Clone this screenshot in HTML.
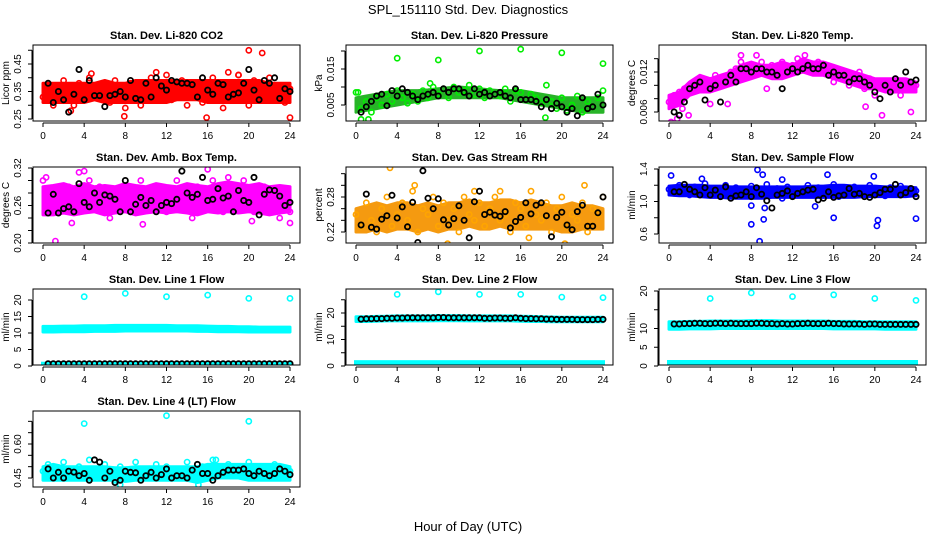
<!DOCTYPE html>
<html><head><meta charset="utf-8"><style>
html,body{margin:0;padding:0;background:#fff;}
svg{display:block;font-family:"Liberation Sans",Arial,sans-serif;}
</style></head><body>
<svg id="chart" width="936" height="540" viewBox="0 0 936 540">
<text x="468" y="14" text-anchor="middle" font-size="13">SPL_151110  Std. Dev. Diagnostics</text>
<text x="468" y="531" text-anchor="middle" font-size="13">Hour of Day (UTC)</text>
</svg>
<script>
const xTickLabels = ["0","4","8","12","16","20","24"];
const xTickValues = [0,4,8,12,16,20,24];

const p1Lo=[0.31,0.31,0.31,0.31,0.31,0.32,0.31,0.31,0.31,0.31,0.31,0.31,0.31,0.32,0.32,0.32,0.31,0.31,0.31,0.31,0.31,0.31,0.31,0.31,0.31];
const p1Hi=[0.38,0.38,0.38,0.38,0.38,0.38,0.39,0.38,0.38,0.39,0.39,0.39,0.39,0.39,0.39,0.39,0.39,0.39,0.39,0.39,0.39,0.39,0.38,0.38,0.38];
const p1Pts=[0.33,0.37,0.30,0.36,0.39,0.34,0.30,0.38,0.35,0.40,0.33,0.37,0.36,0.31,0.39,0.35,0.29,0.38,0.34,0.30,0.36,0.40,0.33,0.37,0.41,0.32,0.36,0.39,0.30,0.35,0.38,0.31,0.37,0.40,0.34,0.29,0.38,0.33,0.41,0.36,0.30,0.39,0.35,0.32,0.40,0.34,0.37,0.31,0.36];
const p1OutH=[2.7,7.9,15.9,20,21.3,18,24,19,11,4.7];
const p1OutV=[0.28,0.26,0.255,0.50,0.49,0.42,0.255,0.41,0.42,0.415];
const p1Blk=[0.38,0.31,0.35,0.32,0.275,0.34,0.43,0.32,0.39,0.335,0.335,0.295,0.335,0.34,0.35,0.33,0.39,0.325,0.32,0.38,0.33,0.40,0.37,0.355,0.39,0.385,0.38,0.38,0.375,0.33,0.40,0.355,0.34,0.38,0.375,0.33,0.34,0.345,0.38,0.43,0.355,0.32,0.39,0.38,0.40,0.325,0.36,0.35];

const p2Lo=[0.003,0.0035,0.004,0.0045,0.005,0.0055,0.006,0.0065,0.007,0.007,0.007,0.007,0.007,0.007,0.007,0.0065,0.006,0.0055,0.005,0.0045,0.004,0.0035,0.003,0.003,0.003];
const p2Hi=[0.007,0.0075,0.008,0.0085,0.009,0.009,0.009,0.0092,0.0095,0.0098,0.010,0.0098,0.0095,0.0092,0.009,0.009,0.009,0.0085,0.008,0.0075,0.007,0.007,0.007,0.007,0.007];
const p2Pts=[0.0085,0.004,0.006,0.003,0.007,0.005,0.008,0.006,0.009,0.007,0.0055,0.008,0.006,0.009,0.007,0.010,0.008,0.0095,0.007,0.010,0.0085,0.009,0.0105,0.008,0.0095,0.007,0.009,0.008,0.0075,0.0095,0.006,0.009,0.0085,0.0065,0.008,0.007,0.0055,0.0105,0.006,0.004,0.007,0.0035,0.005,0.0075,0.003,0.006,0.0045,0.007,0.009];
const p2OutH=[4,8,12,16,20,24,7.2,0.2,18.4,0.5,1.2];
const p2OutV=[0.018,0.0175,0.020,0.0205,0.0195,0.0165,0.011,0.0085,0.0015,0.001,0.001];
const p2Blk=[0.003,0.0045,0.006,0.0075,0.008,0.0048,0.009,0.0075,0.0095,0.0085,0.0075,0.0065,0.0075,0.008,0.0085,0.0075,0.0095,0.0085,0.0095,0.0095,0.0085,0.0075,0.0095,0.008,0.0085,0.0075,0.008,0.0085,0.0075,0.007,0.0095,0.0065,0.0065,0.0065,0.006,0.0045,0.0065,0.004,0.0055,0.0045,0.003,0.004,0.002,0.007,0.004,0.0045,0.008,0.005];

const p3Lo=[0.0065,0.007,0.0085,0.009,0.009,0.0095,0.010,0.0105,0.011,0.0115,0.011,0.011,0.0115,0.012,0.0115,0.0115,0.011,0.0105,0.010,0.0095,0.0095,0.009,0.009,0.009,0.009];
const p3Hi=[0.0085,0.009,0.0105,0.0115,0.011,0.0115,0.012,0.013,0.0135,0.013,0.013,0.0135,0.013,0.014,0.0135,0.0135,0.013,0.0125,0.012,0.0115,0.011,0.011,0.011,0.011,0.0105];
const p3Pts=[0.0075,0.0085,0.009,0.0095,0.010,0.0105,0.011,0.0100,0.0095,0.0115,0.0105,0.011,0.012,0.0125,0.0135,0.0125,0.0130,0.0120,0.0135,0.0125,0.0130,0.012,0.0135,0.0125,0.013,0.0140,0.0125,0.013,0.012,0.0135,0.0125,0.0115,0.0105,0.012,0.0115,0.0100,0.011,0.012,0.0095,0.0110,0.0085,0.0105,0.010,0.0095,0.0110,0.0085,0.0100,0.0095,0.0100];
const p3OutH=[0.2,0.8,1.3,1.9,4,5.7,7,8.5,13.2,20.7,23.5,19.1,9.5];
const p3OutV=[0.0045,0.005,0.0065,0.0055,0.0072,0.0072,0.0145,0.0145,0.0145,0.0055,0.006,0.0068,0.0095];
const p3Blk=[0.006,0.0055,0.0075,0.0095,0.0100,0.0105,0.0078,0.0095,0.0100,0.0075,0.0105,0.0115,0.0105,0.0125,0.0125,0.0120,0.0125,0.0125,0.0120,0.0120,0.0115,0.0095,0.0120,0.0125,0.0120,0.0125,0.0130,0.0125,0.0125,0.0130,0.0115,0.0120,0.0115,0.0115,0.0105,0.0110,0.0110,0.0105,0.0100,0.0090,0.0080,0.0100,0.0090,0.0110,0.0100,0.0120,0.0105,0.0108];

const p4Lo=[0.245,0.245,0.248,0.245,0.248,0.25,0.245,0.248,0.25,0.245,0.248,0.25,0.248,0.25,0.248,0.245,0.25,0.248,0.25,0.248,0.25,0.248,0.245,0.248,0.25];
const p4Hi=[0.29,0.292,0.295,0.29,0.295,0.29,0.292,0.29,0.295,0.292,0.29,0.295,0.292,0.29,0.295,0.292,0.29,0.295,0.298,0.295,0.292,0.295,0.29,0.292,0.29];
const p4Pts=[0.30,0.27,0.25,0.28,0.26,0.29,0.27,0.25,0.28,0.30,0.26,0.29,0.27,0.24,0.28,0.26,0.29,0.25,0.27,0.30,0.28,0.26,0.29,0.27,0.25,0.28,0.30,0.26,0.27,0.24,0.29,0.28,0.26,0.30,0.27,0.25,0.28,0.29,0.26,0.30,0.27,0.25,0.28,0.29,0.26,0.27,0.24,0.28,0.25];
const p4OutH=[1.2,2.8,9.7,20.3,24,16,4,0.3,3.5,18];
const p4OutV=[0.203,0.232,0.23,0.235,0.232,0.318,0.315,0.305,0.313,0.305];
const p4Blk=[0.248,0.278,0.248,0.255,0.258,0.25,0.295,0.265,0.258,0.28,0.265,0.277,0.275,0.27,0.25,0.30,0.25,0.262,0.273,0.26,0.268,0.25,0.26,0.265,0.263,0.27,0.315,0.28,0.273,0.278,0.305,0.268,0.27,0.287,0.272,0.275,0.25,0.284,0.268,0.265,0.305,0.245,0.278,0.285,0.284,0.275,0.26,0.265];

const p5Lo=[0.22,0.22,0.225,0.22,0.225,0.225,0.22,0.225,0.22,0.225,0.225,0.23,0.225,0.225,0.23,0.225,0.225,0.225,0.225,0.225,0.22,0.22,0.225,0.225,0.225];
const p5Hi=[0.26,0.265,0.27,0.265,0.27,0.27,0.265,0.27,0.265,0.27,0.27,0.275,0.27,0.27,0.275,0.275,0.27,0.275,0.27,0.265,0.265,0.27,0.265,0.265,0.26];
const p5Pts=[0.25,0.23,0.27,0.24,0.22,0.26,0.28,0.23,0.25,0.27,0.24,0.29,0.22,0.26,0.25,0.28,0.23,0.27,0.24,0.26,0.22,0.28,0.25,0.24,0.27,0.23,0.26,0.28,0.24,0.25,0.22,0.27,0.26,0.23,0.29,0.25,0.24,0.27,0.22,0.26,0.28,0.23,0.25,0.24,0.27,0.22,0.26,0.25,0.28];
const p5OutH=[3.3,5.7,8.9,16.8,20.3,14,11.5,22.2];
const p5OutV=[0.33,0.30,0.20,0.21,0.20,0.29,0.29,0.30];
const p5Blk=[0.232,0.285,0.228,0.225,0.242,0.248,0.283,0.244,0.263,0.229,0.271,0.202,0.325,0.278,0.260,0.277,0.241,0.232,0.243,0.265,0.240,0.21,0.272,0.290,0.250,0.254,0.249,0.247,0.255,0.227,0.238,0.245,0.270,0.251,0.266,0.270,0.248,0.212,0.245,0.254,0.232,0.224,0.255,0.266,0.230,0.230,0.253,0.280];

const p6Lo=[1.08,1.07,1.07,1.06,1.05,1.05,1.04,1.04,1.04,1.04,1.05,1.05,1.05,1.05,1.05,1.05,1.05,1.05,1.05,1.06,1.06,1.06,1.06,1.06,1.07];
const p6Hi=[1.19,1.2,1.2,1.2,1.19,1.19,1.18,1.18,1.18,1.18,1.18,1.18,1.18,1.18,1.19,1.19,1.2,1.2,1.19,1.19,1.19,1.18,1.18,1.18,1.17];
const p6Pts=[1.15,1.10,1.20,1.12,1.08,1.18,1.14,1.22,1.10,1.16,1.06,1.20,1.12,1.17,1.09,1.14,1.19,1.07,1.13,1.21,1.10,1.16,1.04,1.18,1.12,1.15,1.08,1.20,1.13,1.17,1.10,1.14,1.21,1.06,1.16,1.12,1.18,1.09,1.15,1.20,1.11,1.14,1.07,1.17,1.12,1.19,1.10,1.15,1.13];
const p6OutH=[0.2,8,9.2,8.8,8.6,9.1,16,15.4,20.3,20.2,19.9,24,9.3,8,14.2,3.2,11];
const p6OutV=[1.32,0.72,0.78,0.51,1.39,1.33,0.80,1.33,0.77,0.70,1.31,0.79,0.92,0.95,0.94,1.28,1.27];
const p6Blk=[1.12,1.12,1.21,1.15,1.12,1.08,1.17,1.08,1.14,1.06,1.18,1.04,1.07,1.08,1.12,1.06,1.17,1.09,1.01,0.92,1.08,1.10,1.13,1.06,1.10,1.12,1.14,1.15,1.02,1.04,1.12,1.05,1.07,1.08,1.16,1.09,1.10,1.06,1.05,1.08,1.11,1.15,1.15,1.21,1.08,1.11,1.16,1.06];

const p7Lo=[10.3,10.3,10.4,10.4,10.4,10.5,10.5,10.5,10.6,10.6,10.6,10.6,10.6,10.6,10.6,10.5,10.5,10.4,10.4,10.4,10.3,10.3,10.3,10.3,10.3];
const p7Hi=[12.0,12.0,12.1,12.1,12.2,12.2,12.2,12.3,12.3,12.3,12.3,12.3,12.3,12.2,12.2,12.2,12.1,12.0,12.0,11.9,11.9,11.8,11.8,11.8,11.8];
const p7Low=[0.2,1.3];
const p7OutH=[4,8,12,16,20,24];
const p7OutV=[21,22,21,21.5,20.5,20.5];
const p7Blk=[0.7,0.7,0.7,0.7,0.7,0.7,0.7,0.7,0.7,0.7,0.7,0.7,0.7,0.7,0.7,0.7,0.7,0.7,0.7,0.7,0.7,0.7,0.7,0.7,0.7,0.7,0.7,0.7,0.7,0.7,0.7,0.7,0.7,0.7,0.7,0.7,0.7,0.7,0.7,0.7,0.7,0.7,0.7,0.7,0.7,0.7,0.7,0.7];

const p8Lo=[16.8,16.8,16.9,17.0,17.0,17.0,17.0,17.0,17.1,17.1,17.1,17.0,17.0,17.0,17.0,17.0,16.9,16.8,16.8,16.7,16.7,16.7,16.7,16.7,16.7];
const p8Hi=[18.6,18.6,18.7,18.8,18.9,18.9,18.9,18.9,19.0,19.0,19.0,18.9,18.9,18.9,18.9,18.9,18.8,18.7,18.6,18.5,18.4,18.4,18.4,18.4,18.4];
const p8Low=[0.0,2.2];
const p8OutH=[4,8,12,16,20,24];
const p8OutV=[27,28,27,27,26,25.8];
const p8Blk=[17.7,17.8,17.8,17.9,17.9,18.0,18.0,18.1,18.1,18.2,18.2,18.2,18.2,18.2,18.2,18.3,18.3,18.2,18.2,18.2,18.2,18.2,18.2,18.2,18.0,18.0,18.1,18.1,18.0,18.0,18.2,18.0,17.9,17.9,17.8,17.8,17.7,17.7,17.6,17.6,17.6,17.6,17.5,17.5,17.5,17.5,17.6,17.6];

const p9Lo=[9.8,9.8,9.9,9.9,9.9,10.0,10.0,10.0,10.0,10.0,10.0,10.0,10.0,10.0,10.0,10.0,9.9,9.9,9.9,9.9,9.9,9.8,9.8,9.8,9.8];
const p9Hi=[11.8,11.8,11.9,11.9,12.0,12.0,12.0,12.0,12.1,12.1,12.1,12.0,12.0,12.0,12.0,12.0,11.9,11.9,11.9,11.8,11.8,11.8,11.8,11.8,11.8];
const p9Low=[0.0,1.6];
const p9OutH=[4,8,12,16,20,24];
const p9OutV=[18,19.5,18.5,19,18,17.5];
const p9Blk=[11.2,11.2,11.3,11.3,11.4,11.4,11.3,11.3,11.4,11.4,11.3,11.4,11.3,11.3,11.3,11.3,11.4,11.4,11.3,11.3,11.2,11.3,11.2,11.2,11.3,11.3,11.4,11.3,11.3,11.3,11.4,11.3,11.3,11.2,11.2,11.2,11.2,11.1,11.2,11.2,11.1,11.1,11.1,11.1,11.1,11.1,11.1,11.1];

const p10Lo=[0.44,0.44,0.44,0.44,0.44,0.44,0.44,0.44,0.435,0.44,0.44,0.44,0.44,0.44,0.44,0.43,0.44,0.45,0.45,0.45,0.44,0.44,0.44,0.44,0.44];
const p10Hi=[0.50,0.51,0.50,0.50,0.50,0.50,0.50,0.495,0.495,0.50,0.50,0.50,0.50,0.50,0.50,0.50,0.51,0.51,0.51,0.51,0.51,0.51,0.51,0.51,0.50];
const p10Pts=[0.48,0.51,0.46,0.49,0.52,0.47,0.45,0.50,0.48,0.53,0.46,0.49,0.51,0.47,0.44,0.50,0.48,0.46,0.52,0.49,0.45,0.48,0.51,0.47,0.50,0.46,0.49,0.48,0.52,0.45,0.47,0.50,0.48,0.53,0.49,0.46,0.51,0.48,0.50,0.47,0.52,0.49,0.46,0.50,0.48,0.51,0.47,0.49,0.48];
const p10OutH=[4,12,20,16.8,7.5,15.1];
const p10OutV=[0.69,0.725,0.70,0.53,0.42,0.42];
const p10Blk=[0.49,0.45,0.475,0.45,0.48,0.476,0.46,0.47,0.44,0.53,0.52,0.45,0.48,0.43,0.44,0.48,0.475,0.473,0.44,0.46,0.475,0.45,0.465,0.49,0.45,0.46,0.46,0.45,0.485,0.51,0.47,0.47,0.44,0.46,0.475,0.485,0.485,0.485,0.49,0.47,0.46,0.48,0.47,0.46,0.47,0.49,0.48,0.465];

const p1Ticks=[0.25,0.30,0.35,0.40,0.45,0.50], p1Labels=["0.25","","0.35","","0.45",""];
const p2Ticks=[0.005,0.010,0.015,0.020], p2Labels=["0.005","","0.015",""];
const p3Ticks=[0.006,0.008,0.010,0.012,0.014], p3Labels=["0.006","","","0.012",""];
const p4Ticks=[0.20,0.22,0.24,0.26,0.28,0.30,0.32], p4Labels=["0.20","","","0.26","","","0.32"];
const p5Ticks=[0.22,0.24,0.26,0.28,0.30,0.32], p5Labels=["0.22","","","0.28","",""];
const p6Ticks=[0.6,0.8,1.0,1.2,1.4], p6Labels=["0.6","","1.0","","1.4"];
const p7Ticks=[0,5,10,15,20], p7Labels=["0","5","10","15","20"];
const p8Ticks=[0,5,10,15,20,25], p8Labels=["0","","10","","20",""];
const p9Ticks=[0,5,10,15,20], p9Labels=["0","5","10","","20"];
const p10Ticks=[0.45,0.50,0.55,0.60,0.65,0.70], p10Labels=["0.45","","","0.60","",""];

const NS="http://www.w3.org/2000/svg";
const svg=document.getElementById('chart');
function mk(tag,attrs,parent){const e=document.createElementNS(NS,tag);for(const k in attrs)e.setAttribute(k,attrs[k]);(parent||svg).appendChild(e);return e;}

const panels=[
 {key:'co2',title:'Stan. Dev. Li-820 CO2',yl:'Licor ppm',c:0,r:0,v1:0.25,y1:119,v2:0.45,y2:64,col:'#ff0000',band:'#ff0000',lo:p1Lo,hi:p1Hi,pts:p1Pts,oh:p1OutH,ov:p1OutV,blk:p1Blk,t:p1Ticks,tl:p1Labels},
 {key:'pressure',title:'Stan. Dev. Li-820 Pressure',yl:'kPa',c:1,r:0,v1:0.005,y1:105,v2:0.015,y2:69,col:'#00ee00',band:'#28b428',lo:p2Lo,hi:p2Hi,pts:p2Pts,oh:p2OutH,ov:p2OutV,blk:p2Blk,t:p2Ticks,tl:p2Labels},
 {key:'temp',title:'Stan. Dev. Li-820 Temp.',yl:'degrees C',c:2,r:0,v1:0.006,y1:112,v2:0.012,y2:72,col:'#ff00ff',band:'#ff00ff',lo:p3Lo,hi:p3Hi,pts:p3Pts,oh:p3OutH,ov:p3OutV,blk:p3Blk,t:p3Ticks,tl:p3Labels},
 {key:'amb-temp',title:'Stan. Dev. Amb. Box Temp.',yl:'degrees C',c:0,r:1,v1:0.20,y1:243,v2:0.32,y2:168,col:'#ff00ff',band:'#ff00ff',lo:p4Lo,hi:p4Hi,pts:p4Pts,oh:p4OutH,ov:p4OutV,blk:p4Blk,t:p4Ticks,tl:p4Labels},
 {key:'rh',title:'Stan. Dev. Gas Stream RH',yl:'percent',c:1,r:1,v1:0.22,y1:232,v2:0.28,y2:197,col:'#ffa500',band:'#f59a10',lo:p5Lo,hi:p5Hi,pts:p5Pts,oh:p5OutH,ov:p5OutV,blk:p5Blk,t:p5Ticks,tl:p5Labels},
 {key:'sample-flow',title:'Stan. Dev. Sample Flow',yl:'ml/min',c:2,r:1,v1:0.6,y1:234,v2:1.4,y2:169,col:'#0000ff',band:'#0000ff',lo:p6Lo,hi:p6Hi,pts:p6Pts,oh:p6OutH,ov:p6OutV,blk:p6Blk,t:p6Ticks,tl:p6Labels},
 {key:'line1',title:'Stan. Dev. Line 1 Flow',yl:'ml/min',c:0,r:2,v1:0,y1:366,v2:20,y2:300,col:'#00ffff',band:'#00ffff',lo:p7Lo,hi:p7Hi,low:p7Low,pts:null,oh:p7OutH,ov:p7OutV,blk:p7Blk,t:p7Ticks,tl:p7Labels},
 {key:'line2',title:'Stan. Dev. Line 2 Flow',yl:'ml/min',c:1,r:2,v1:0,y1:366,v2:20,y2:313,col:'#00ffff',band:'#00ffff',lo:p8Lo,hi:p8Hi,low:p8Low,pts:null,oh:p8OutH,ov:p8OutV,blk:p8Blk,t:p8Ticks,tl:p8Labels},
 {key:'line3',title:'Stan. Dev. Line 3 Flow',yl:'ml/min',c:2,r:2,v1:0,y1:366,v2:20,y2:291,col:'#00ffff',band:'#00ffff',lo:p9Lo,hi:p9Hi,low:p9Low,pts:null,oh:p9OutH,ov:p9OutV,blk:p9Blk,t:p9Ticks,tl:p9Labels},
 {key:'line4',title:'Stan. Dev. Line 4 (LT) Flow',yl:'ml/min',c:0,r:3,v1:0.45,y1:478,v2:0.60,y2:444,col:'#00ffff',band:'#00ffff',lo:p10Lo,hi:p10Hi,pts:p10Pts,oh:p10OutH,ov:p10OutV,blk:p10Blk,t:p10Ticks,tl:p10Labels}
];

panels.forEach(p=>{
  const bl=33+313*p.c, br=300+313*p.c, bt=45+122*p.r, bb=121+122*p.r;
  const x0=43+313*p.c, xs=247/24;
  const X=h=>x0+h*xs;
  const Y=v=>p.y1+(v-p.v1)*(p.y2-p.y1)/(p.v2-p.v1);
  const g=mk('g',{});
  
  
  const defs=mk('clipPath',{id:'clip-'+p.key},g);
  mk('rect',{x:bl,y:bt,width:br-bl,height:bb-bt},defs);
  const plot=mk('g',{'clip-path':'url(#clip-'+p.key+')'},g);
  let d='';
  p.lo.forEach((v,i)=>{d+=(i?'L':'M')+X(i).toFixed(1)+' '+Y(v).toFixed(1);});
  for(let i=p.hi.length-1;i>=0;i--){d+='L'+X(i).toFixed(1)+' '+Y(p.hi[i]).toFixed(1);}
  const band=mk('path',{d:d+'Z',fill:p.band,stroke:p.band,'stroke-width':3,'stroke-linejoin':'round'},plot);
  
  
  if(p.low){
    const lb=mk('rect',{x:X(0)-2,y:Y(p.low[1]),width:X(24)-X(0)+4,height:Y(p.low[0])-Y(p.low[1]),fill:p.col},plot);
    
    
  }
  const circ=(h,v,color,sw,name)=>{
    const e=mk('circle',{cx:X(h).toFixed(1),cy:Y(v).toFixed(1),r:2.6,fill:'none',stroke:color,'stroke-width':sw},plot);
    
    
  };
  if(p.pts){p.pts.forEach((v,i)=>circ(i*0.5,v,p.col,1.6,p.key+'-point'));}
  p.oh.forEach((h,i)=>circ(h,p.ov[i],p.col,1.6,p.key+'-outlier'));
  p.blk.forEach((v,i)=>circ(0.5+i*0.5,v,'#000',1.8,p.key+'-black-point'));
  const box=mk('rect',{x:bl,y:bt,width:br-bl,height:bb-bt,fill:'none',stroke:'#000','stroke-width':1},g);
  
  
  const tt=mk('text',{x:(bl+br)/2,y:bt-6,'text-anchor':'middle','font-size':11,'font-weight':'bold'},g);
  tt.textContent=p.title;
  
  
  const ay=bb+2;
  mk('line',{x1:X(0),x2:X(24),y1:ay,y2:ay,stroke:'#000'},g);
  xTickValues.forEach((h,i)=>{
    mk('line',{x1:X(h),x2:X(h),y1:ay,y2:ay+4,stroke:'#000'},g);
    const t=mk('text',{x:X(h),y:ay+16,'text-anchor':'middle','font-size':10},g);
    t.textContent=xTickLabels[i];
    
    
  });
  const ax=bl-1;
  mk('line',{x1:ax,x2:ax,y1:Y(p.t[0]),y2:Y(p.t[p.t.length-1]),stroke:'#000'},g);
  p.t.forEach((v,i)=>{
    const y=Y(v);
    mk('line',{x1:ax-4,x2:ax,y1:y,y2:y,stroke:'#000'},g);
    if(p.tl[i]){
      const t=mk('text',{x:0,y:0,'text-anchor':'middle','font-size':10,transform:`translate(${bl-12},${y}) rotate(-90)`},g);
      t.textContent=p.tl[i];
      
      
    }
  });
  const yl=mk('text',{x:0,y:0,'text-anchor':'middle','font-size':10,transform:`translate(${bl-24},${(bt+bb)/2}) rotate(-90)`},g);
  yl.textContent=p.yl;
  
  
});
</script>
</body></html>
